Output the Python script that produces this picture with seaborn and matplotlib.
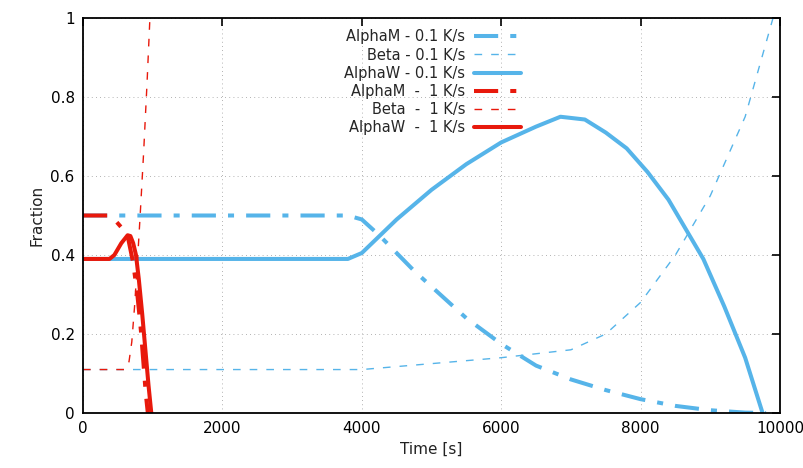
import matplotlib
matplotlib.use("Agg")
import matplotlib.pyplot as plt
import seaborn as sns
import pandas as pd

# ---- data ----
t_am_slow = [0, 3800, 4000, 4250, 4500, 4750, 5000, 5500, 6000, 6500, 7000, 7500, 8000, 8500, 9000, 9500, 9800]
am_slow = [0.5, 0.5, 0.49, 0.45, 0.405, 0.36, 0.32, 0.24, 0.175, 0.12, 0.085, 0.058, 0.035, 0.018, 0.007, 0.001, 0.0]

t_b_slow = [0, 4000, 5000, 6000, 7000, 7500, 8000, 8500, 9000, 9500, 9900]
b_slow = [0.11, 0.11, 0.125, 0.14, 0.16, 0.2, 0.28, 0.4, 0.55, 0.75, 1.0]

t_aw_slow = [0, 3800, 4000, 4500, 5000, 5500, 6000, 6500, 6850, 7200, 7500, 7800, 8100, 8400, 8700, 8900, 9200, 9500, 9750]
aw_slow = [0.39, 0.39, 0.405, 0.49, 0.565, 0.63, 0.685, 0.725, 0.75, 0.743, 0.71, 0.67, 0.61, 0.54, 0.45, 0.39, 0.27, 0.14, 0.0]

t_am_fast = [0, 360, 450, 550, 650, 720, 780, 830, 870, 900, 930]
am_fast = [0.5, 0.5, 0.49, 0.47, 0.44, 0.38, 0.30, 0.21, 0.12, 0.05, 0.0]

t_b_fast = [0, 600, 660, 700, 740, 780, 820, 870, 920, 960]
b_fast = [0.11, 0.11, 0.13, 0.18, 0.27, 0.38, 0.5, 0.66, 0.84, 1.0]

t_aw_fast = [0, 380, 450, 550, 640, 680, 720, 760, 800, 850, 900, 940, 980]
aw_fast = [0.39, 0.39, 0.40, 0.43, 0.45, 0.448, 0.43, 0.40, 0.34, 0.25, 0.15, 0.07, 0.0]

labels = ["AlphaM - 0.1 K/s", "Beta - 0.1 K/s", "AlphaW - 0.1 K/s",
          "AlphaM  -  1 K/s", "Beta  -  1 K/s", "AlphaW  -  1 K/s"]
x_ticks = [0, 2000, 4000, 6000, 8000, 10000]
y_ticks = [0, 0.2, 0.4, 0.6, 0.8, 1.0]
y_tick_labels = ["0", "0.2", "0.4", "0.6", "0.8", "1"]

sns.set_theme(style="white")
plt.rcParams['font.family'] = ['DejaVu Sans']

BLUE = "#56b4e9"
RED = "#e8190c"

fig = plt.figure(figsize=(8.04, 4.68), dpi=100)
ax = fig.add_axes([83/804, 1 - 413/468, (780-83)/804, (413-18)/468])

DASHDOT = (0, (6.0, 3.0, 1.5, 3.0))
DASHED = (0, (5.5, 6.5))
series = [
    (t_am_slow, am_slow, BLUE, 2.9, DASHDOT),
    (t_b_slow, b_slow, BLUE, 1.0, DASHED),
    (t_aw_slow, aw_slow, BLUE, 2.9, "-"),
    (t_am_fast, am_fast, RED, 2.9, DASHDOT),
    (t_b_fast, b_fast, RED, 1.0, DASHED),
    (t_aw_fast, aw_fast, RED, 2.9, "-"),
]
for (tx, vy, c, lw, ls), lab in zip(series, labels):
    df = pd.DataFrame({"t": tx, "v": vy})
    sns.lineplot(data=df, x="t", y="v", ax=ax, color=c, linewidth=lw,
                 linestyle=ls, label=lab, sort=False)

ax.set_xlim(0, 10000)
ax.set_ylim(0, 1)
ax.set_xticks(x_ticks)
ax.set_xticklabels([str(v) for v in x_ticks])
ax.set_yticks(y_ticks)
ax.set_yticklabels(y_tick_labels)
ax.set_xlabel("Time [s]", fontsize=11, color="#222222")
ax.set_ylabel("Fraction", fontsize=11, color="#222222")
ax.tick_params(direction="in", length=6, width=1.2, top=True, right=True,
               labelsize=11, colors="black", pad=6)
ax.grid(True, linestyle=(0, (1, 4)), color="#999999", linewidth=0.6)
for s in ax.spines.values():
    s.set_color("black")
    s.set_linewidth(1.3)

leg = ax.legend(loc="upper right", bbox_to_anchor=(528/804, 1 - 22/468),
                bbox_transform=fig.transFigure, frameon=False, markerfirst=False,
                fontsize=10.5, handlelength=3.2, labelspacing=0.22,
                borderpad=0, handletextpad=0.6)

fig.savefig("out.png", dpi=100)
